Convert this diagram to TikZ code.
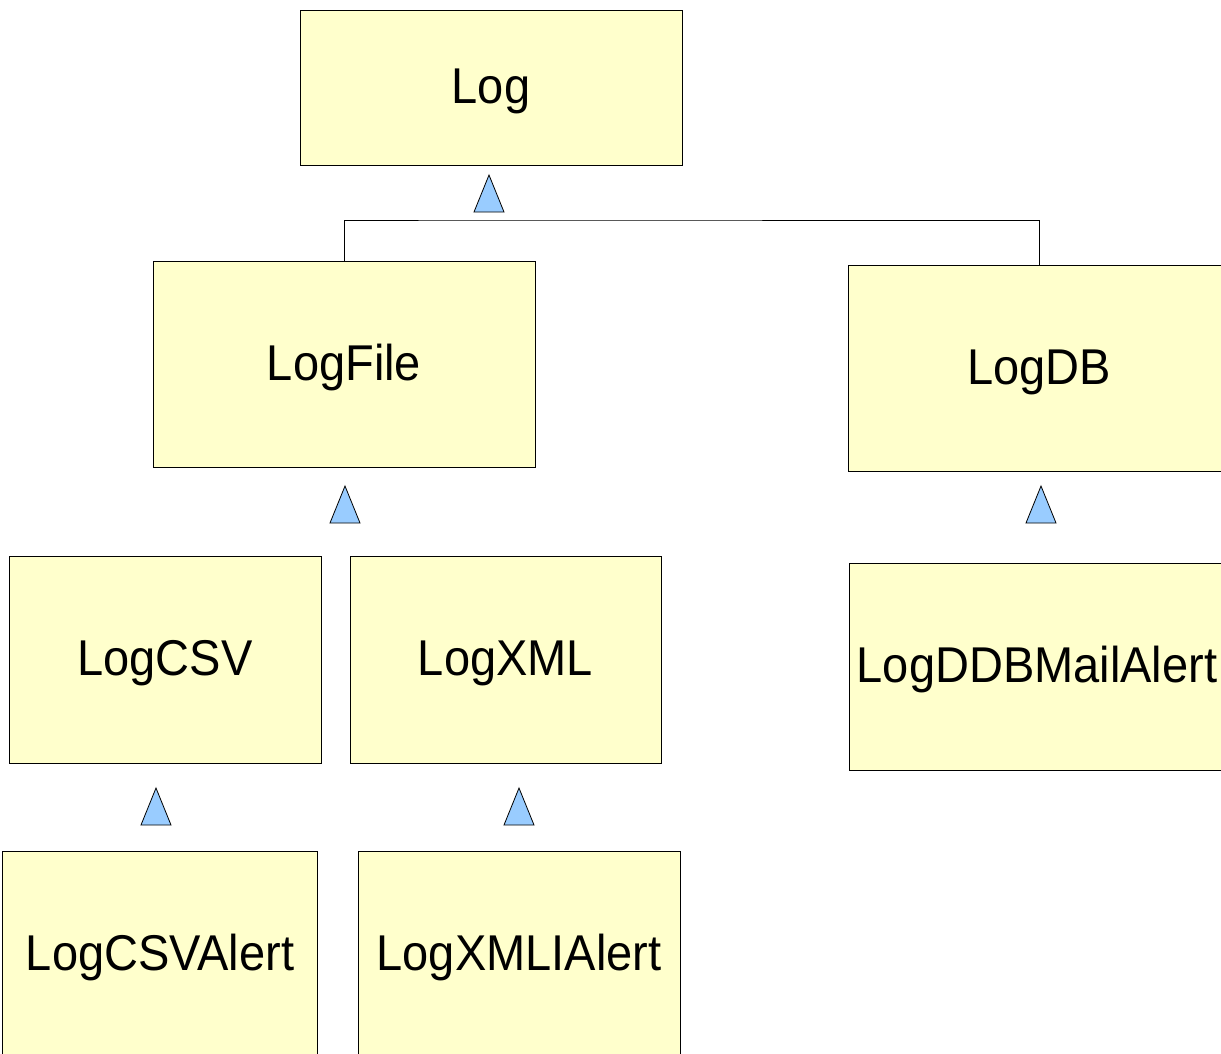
\documentclass[tikz,border=0pt]{standalone}
\usepackage{fontspec}
\usepackage{graphicx}
\setmainfont{Liberation Sans}
\newcommand\tallbl[1]{\scalebox{1}[1.07]{#1}}
\begin{document}
\begin{tikzpicture}[x=1pt,y=-1pt,
  cls/.style={draw=black, line width=0.8pt, fill=boxfill, inner sep=0pt,
    font=\fontsize{47}{56}\selectfont, text height=36pt, text depth=4pt},
  tri/.style={draw=black, line width=0.8pt, fill=trifill, line join=miter},
  conn/.style={draw=black, line width=0.8pt}]
\definecolor{boxfill}{HTML}{FFFFCC}
\definecolor{trifill}{HTML}{99CCFF}
\useasboundingbox (0,0) rectangle (1221,1053);
\clip (0,0) rectangle (1221,1053);
% class boxes
\node[cls, minimum width=382pt, minimum height=155pt] (log) at (491,87.5) {\tallbl{Log}};
\node[cls, minimum width=382pt, minimum height=206pt] (logfile) at (344,364) {\tallbl{LogFile}};
\node[cls, minimum width=382pt, minimum height=206pt] (logdb) at (1039,368) {\tallbl{LogDB}};
\node[cls, minimum width=312pt, minimum height=207pt] (logcsv) at (165,659.5) {\tallbl{LogCSV}};
\node[cls, minimum width=311pt, minimum height=207pt] (logxml) at (505.5,659.5) {\tallbl{LogXML}};
\node[cls, minimum width=376pt, minimum height=207pt] (logddb) at (1037,666.5) {\tallbl{LogDDBMailAlert}};
\node[cls, minimum width=315pt, minimum height=220pt] (logcsvalert) at (159.5,961) {};
\node[font=\fontsize{47}{56}\selectfont, inner sep=0pt, text height=36pt, text depth=4pt]
  (t1) at (160,954) {\tallbl{LogCSVAlert}};
\node[cls, minimum width=322pt, minimum height=220pt] (logxmlalert) at (519,961) {};
\node[font=\fontsize{47}{56}\selectfont, inner sep=0pt, text height=36pt, text depth=4pt]
  (t2) at (519,954) {\tallbl{LogXMLIAlert}};
% connector LogFile, LogDB -> Log
\coordinate (bar) at (0,220);
\draw[conn] (logfile.north) |- (bar -| log.center) -| (logdb.north);
% inheritance triangles
\coordinate (a1) at (489,175);
\coordinate (a2) at (345,486);
\coordinate (a3) at (1041,486);
\coordinate (a4) at (156,788);
\coordinate (a5) at (519,788);
\foreach \c in {a1,a2,a3,a4,a5}{
  \draw[tri] (\c) -- ++(15,37) -- ++(-30,0) -- cycle;
}
\end{tikzpicture}
\end{document}
